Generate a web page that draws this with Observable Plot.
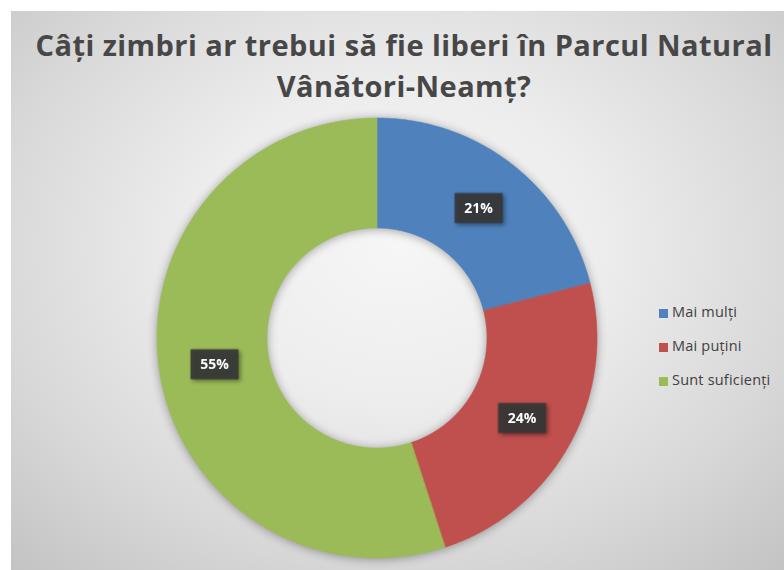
<!DOCTYPE html>
<html><head><meta charset="utf-8">
<script src="https://cdn.jsdelivr.net/npm/d3@7"></script>
<script src="https://cdn.jsdelivr.net/npm/@observablehq/plot@0.6"></script>
<style>
html,body{margin:0;padding:0;background:#fff;}
#wrap{position:relative;width:784px;height:570px;overflow:hidden;background:#fff;}
#bg{position:absolute;left:11px;top:11px;right:0;bottom:0;
  background:radial-gradient(ellipse 75% 80% at 50% 42%, #f6f6f6 0%, #ededed 35%, #d8d8d8 70%, #c2c2c2 100%);}
#title{position:absolute;left:24px;width:760px;top:24px;text-align:center;font-family:"Open Sans",Lato,sans-serif;
  font-weight:bold;font-size:29px;line-height:41px;color:#474747;letter-spacing:0.45px;}
#chart{position:absolute;left:0;top:112px;}
#legend{position:absolute;left:659px;top:302px;font-family:"Open Sans",Lato,sans-serif;font-size:14.5px;color:#404040;letter-spacing:0.2px;}
#legend .row{height:34px;display:flex;align-items:flex-start;white-space:nowrap;}
#legend .sw{width:9px;height:9px;margin-top:7px;margin-right:4px;}
</style>
</head><body>
<div id="wrap">
  <div id="bg"></div>
  <div id="title"></div>
  <div id="chart"></div>
  <div id="legend"></div>
</div>
<script>
const titleLines = ["Câți zimbri ar trebui să fie liberi în Parcul Natural", "Vânători-Neamț?"];
const categories = ["Mai mulți", "Mai puțini", "Sunt suficienți"];
const values = [21, 24, 55];
const labels = ["21%", "24%", "55%"];
const colors = ["#4f81bd", "#c0504d", "#9bbb59"];

const R = 1, r0 = 0.5;
const total = d3.sum(values);
let acc = 0;
const pts = [];
const labelData = [];
categories.forEach((cat, i) => {
  const a0 = acc / total * 2 * Math.PI;
  acc += values[i];
  const a1 = acc / total * 2 * Math.PI;
  const n = Math.max(2, Math.ceil((a1 - a0) / (Math.PI / 360)));
  for (let k = 0; k <= n; k++) {
    const a = a0 + (a1 - a0) * k / n;
    pts.push({cat, x1: Math.sin(a) * R, y1: Math.cos(a) * R, x2: Math.sin(a) * r0, y2: Math.cos(a) * r0});
  }
  const am = (a0 + a1) / 2, rm = (R + r0) / 2;
  labelData.push({cat, label: labels[i], lx: Math.sin(am) * rm, ly: Math.cos(am) * rm});
});

const boxSymbol = {draw(ctx) { ctx.rect(-24, -15, 48, 30); }};

const plot = Plot.plot({
  width: 784, height: 458,
  marginLeft: 157, marginRight: 187, marginTop: 6, marginBottom: 12,
  x: {domain: [-1, 1], axis: null},
  y: {domain: [-1, 1], axis: null},
  color: {domain: categories, range: colors},
  style: {background: "transparent", overflow: "visible"},
  marks: [
    Plot.area(pts, {x1: "x1", y1: "y1", x2: "x2", y2: "y2", z: "cat", fill: "cat", stroke: "cat", strokeWidth: 0.6}),
    Plot.dot(labelData, {x: "lx", y: "ly", symbol: boxSymbol, fill: "#363636", fillOpacity: 0.92, stroke: "none"}),
    Plot.text(labelData, {x: "lx", y: "ly", text: "label", fill: "white", fontWeight: "bold", fontSize: 14, fontFamily: "'Open Sans', Lato, sans-serif", dy: 0.5})
  ]
});
d3.select(plot).select("g[aria-label=area]").style("filter", "drop-shadow(0px 1px 5px rgba(0,0,0,0.35))");
d3.select(plot).select("g[aria-label=dot]").style("filter", "drop-shadow(2px 2px 2px rgba(0,0,0,0.45))");
document.getElementById("chart").appendChild(plot);

const t = d3.select("#title");
titleLines.forEach(l => t.append("div").text(l));

const lg = d3.select("#legend");
categories.forEach((c, i) => {
  const row = lg.append("div").attr("class", "row");
  row.append("div").attr("class", "sw").style("background", colors[i]);
  row.append("span").text(c);
});
</script>
</body></html>
